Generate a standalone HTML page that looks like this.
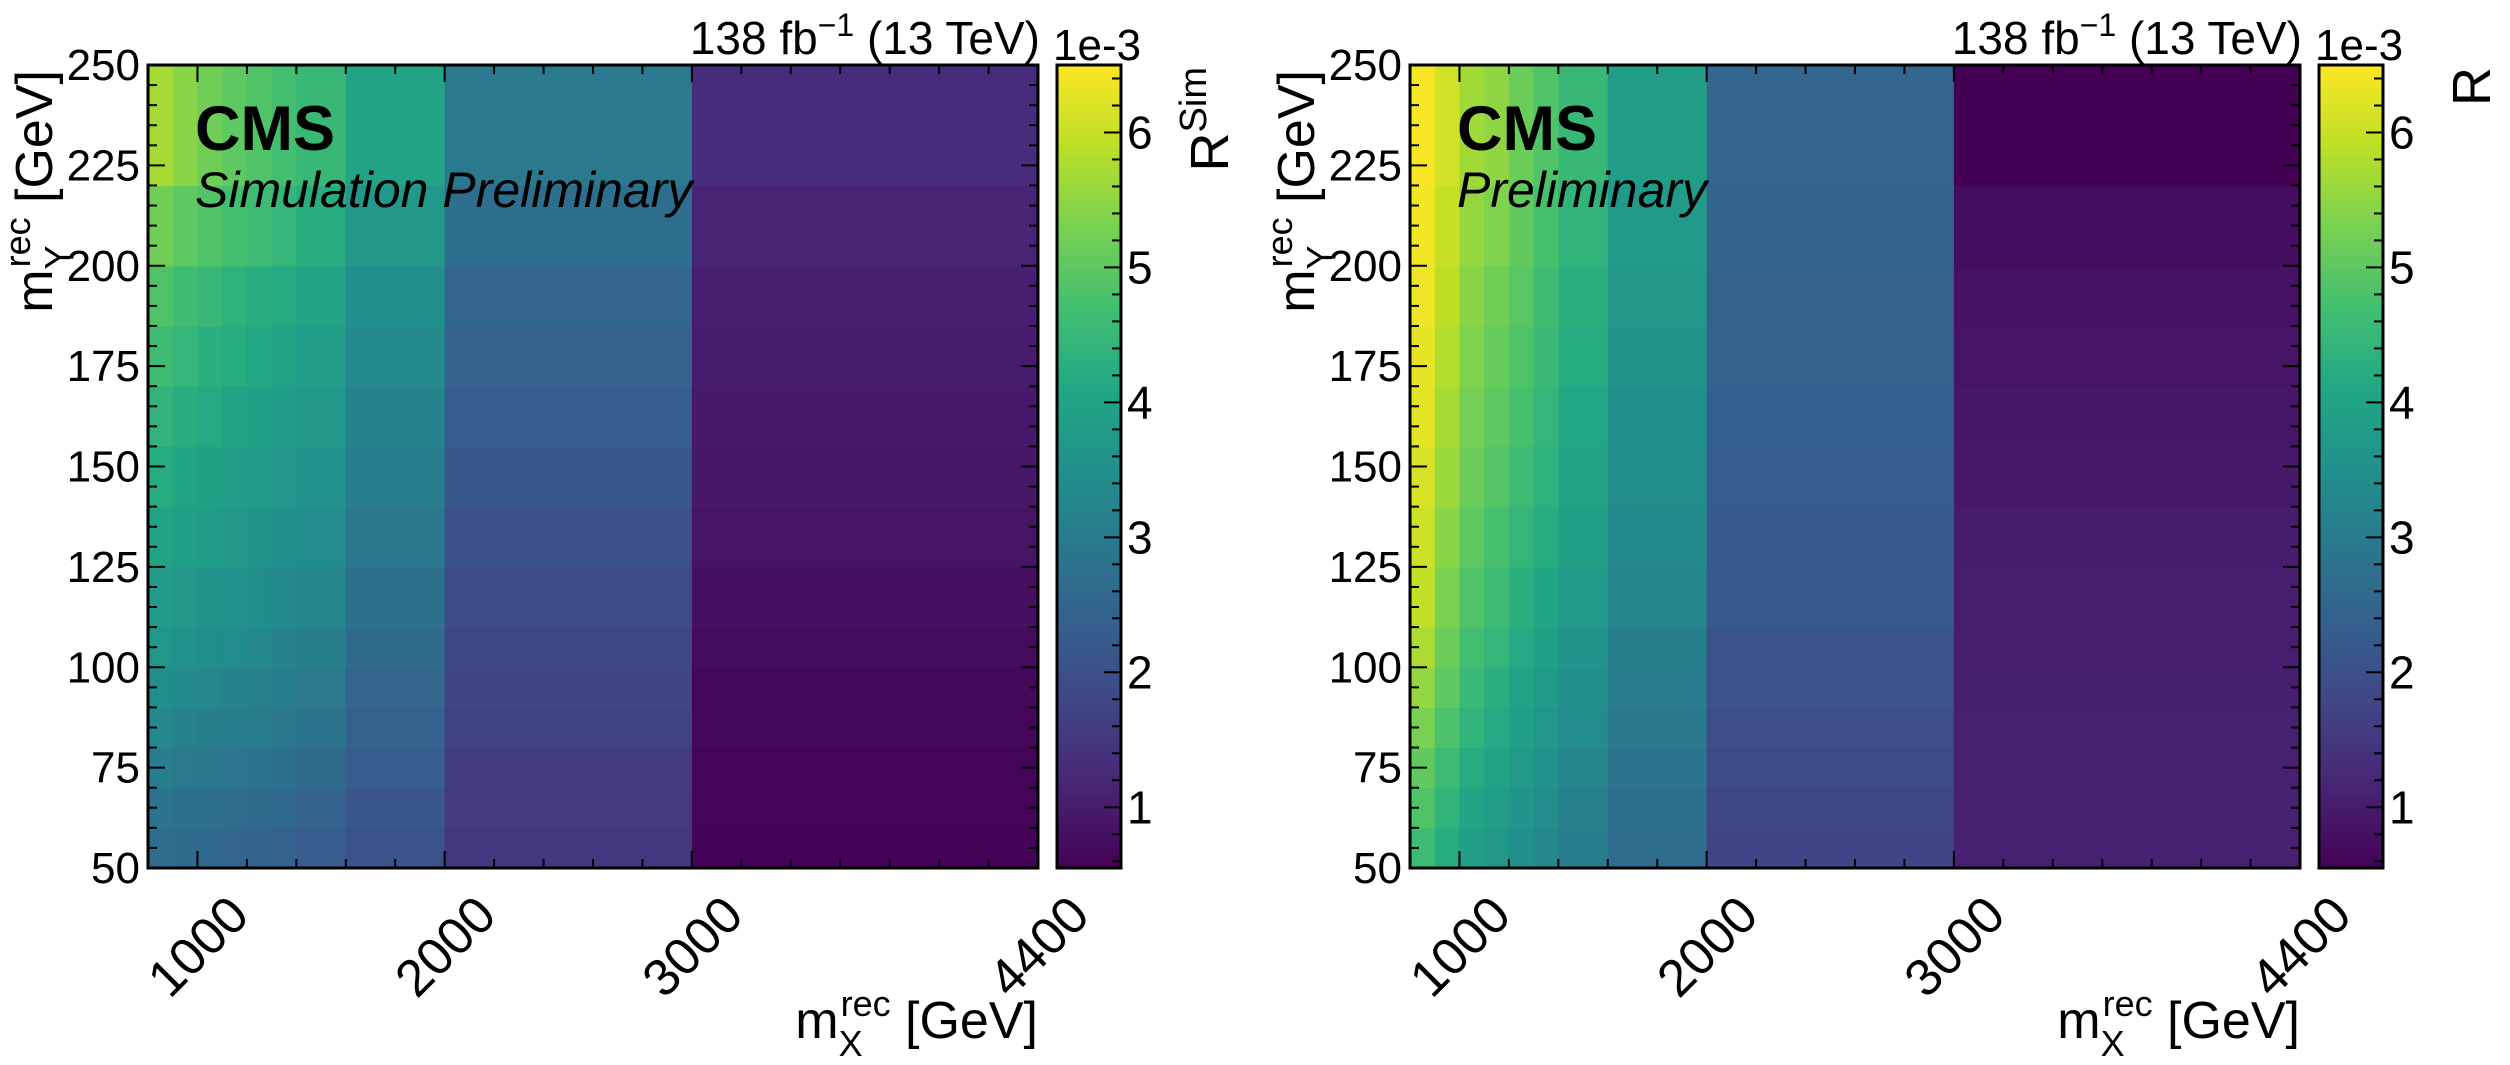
<!DOCTYPE html>
<html><head><meta charset="utf-8"><style>
html,body{margin:0;padding:0;background:#fff;}
svg{display:block;font-family:"Liberation Sans",Arial,sans-serif;}
</style></head><body>
<svg id="chart" width="2510" height="1065" viewBox="0 0 2510 1065" xmlns="http://www.w3.org/2000/svg">
<defs>
<linearGradient id="vir" x1="0" y1="1" x2="0" y2="0">
<stop offset="0" stop-color="#440154"/><stop offset="0.1" stop-color="#482475"/><stop offset="0.2" stop-color="#414487"/><stop offset="0.3" stop-color="#355f8d"/><stop offset="0.4" stop-color="#2a788e"/><stop offset="0.5" stop-color="#21918c"/><stop offset="0.6" stop-color="#22a884"/><stop offset="0.7" stop-color="#44bf70"/><stop offset="0.8" stop-color="#7ad151"/><stop offset="0.9" stop-color="#bddf26"/><stop offset="1" stop-color="#fde725"/>
</linearGradient>
</defs>
</svg>
<script>
// ---- data ----
const xEdges = [800, 900, 1000, 1100, 1200, 1300, 1400, 1600, 2000, 3000, 4400];
const yEdges = [50, 60, 70, 80, 90, 100, 110, 125, 140, 155, 170, 185, 200, 220, 250];
const xTickValues = [1000, 2000, 3000, 4400];
const yTickValues = [50, 75, 100, 125, 150, 175, 200, 225, 250];
const cbTickValues = [1, 2, 3, 4, 5, 6];
// rows bottom (50-60) -> top (220-250), units 1e-3
const valuesSim = [
 [2.65,2.6,2.55,2.5,2.45,2.4,2.3,2.05,1.5,0.58],
 [2.8,2.75,2.7,2.65,2.6,2.55,2.45,2.15,1.55,0.6],
 [3.05,2.95,2.9,2.85,2.8,2.75,2.6,2.3,1.6,0.62],
 [3.3,3.2,3.1,3.05,3.0,2.9,2.8,2.4,1.7,0.65],
 [3.45,3.35,3.3,3.2,3.15,3.05,2.95,2.5,1.75,0.68],
 [3.65,3.55,3.45,3.4,3.3,3.2,3.1,2.6,1.8,0.72],
 [3.8,3.7,3.6,3.55,3.45,3.35,3.25,2.75,1.9,0.78],
 [4.0,3.9,3.8,3.7,3.6,3.5,3.4,2.9,2.0,0.85],
 [4.2,4.05,3.95,3.85,3.75,3.65,3.55,3.05,2.15,0.9],
 [4.4,4.25,4.15,4.0,3.9,3.8,3.7,3.2,2.3,0.95],
 [4.65,4.45,4.3,4.2,4.1,4.0,3.85,3.35,2.4,1.0],
 [4.85,4.65,4.5,4.35,4.25,4.15,4.0,3.5,2.5,1.05],
 [5.2,5.0,4.85,4.7,4.6,4.45,4.25,3.7,2.7,1.15],
 [5.7,5.45,5.2,5.0,4.85,4.7,4.5,4.0,2.95,1.3]
];
const valuesData = [
 [4.6,4.2,3.9,3.7,3.5,3.3,3.05,2.65,1.75,1.1],
 [4.85,4.4,4.05,3.85,3.6,3.4,3.15,2.7,1.8,1.09],
 [5.05,4.6,4.2,4.0,3.75,3.55,3.25,2.8,1.9,1.08],
 [5.3,4.8,4.4,4.15,3.9,3.65,3.4,2.9,1.95,1.07],
 [5.55,5.0,4.55,4.3,4.0,3.8,3.5,3.0,2.05,1.06],
 [5.75,5.15,4.7,4.45,4.15,3.9,3.6,3.1,2.1,1.04],
 [5.95,5.3,4.85,4.6,4.3,4.05,3.75,3.25,2.2,1.02],
 [6.05,5.45,5.0,4.75,4.45,4.2,3.9,3.35,2.25,1.0],
 [6.15,5.6,5.15,4.9,4.6,4.35,4.0,3.45,2.3,0.96],
 [6.25,5.7,5.25,5.0,4.75,4.45,4.1,3.5,2.35,0.92],
 [6.3,5.8,5.35,5.1,4.85,4.55,4.2,3.6,2.4,0.87],
 [6.35,5.9,5.45,5.2,4.95,4.65,4.3,3.7,2.42,0.82],
 [6.4,6.0,5.55,5.35,5.05,4.75,4.4,3.75,2.45,0.75],
 [6.45,6.1,5.65,5.5,5.15,4.85,4.5,3.85,2.5,0.55]
];
const zMin = 0.55, zMax = 6.5;

// ---- rendering ----
const NS = "http://www.w3.org/2000/svg";
const svg = document.getElementById('chart');
const VIR = ["#440154","#482475","#414487","#355f8d","#2a788e","#21918c","#22a884","#44bf70","#7ad151","#bddf26","#fde725"];
function hex(h){return [parseInt(h.slice(1,3),16),parseInt(h.slice(3,5),16),parseInt(h.slice(5,7),16)];}
function viridis(v){
  let t=(v-zMin)/(zMax-zMin); t=Math.max(0,Math.min(1,t));
  const p=t*10, i=Math.min(9,Math.floor(p)), f=p-i;
  const a=hex(VIR[i]), b=hex(VIR[i+1]);
  return 'rgb('+a.map((c,k)=>Math.round(c+(b[k]-c)*f)).join(',')+')';
}
function mk(tag, attrs, parent){
  const e=document.createElementNS(NS,tag);
  for(const k in attrs) e.setAttribute(k, attrs[k]);
  (parent||svg).appendChild(e); return e;
}
function txt(str, attrs, parent){ const t=mk('text',attrs,parent); t.textContent=str; return t; }

function drawPanel(ox, values, isSim){
  const L=148+ox, R=1038+ox, T=65, B=868;
  const xs = v => L + (v-800)/(4400-800)*(R-L);
  const ys = v => B - (v-50)/(250-50)*(B-T);
  const g = mk('g',{});
  
  
  for(let r=0;r<yEdges.length-1;r++){
    for(let c=0;c<xEdges.length-1;c++){
      const x0=xs(xEdges[c]), x1=xs(xEdges[c+1]), y0=ys(yEdges[r+1]), y1=ys(yEdges[r]);
      const cell=mk('rect',{x:x0,y:y0,width:x1-x0+0.6,height:y1-y0+0.6,fill:viridis(values[r][c])},g);
      
      
    }
  }
  const tk = mk('g',{stroke:'#000','stroke-width':2},g);
  
  
  for(let v=800; v<=4400; v+=200){
    const maj = xTickValues.includes(v); const len = maj?17:9; const x=xs(v);
    mk('line',{x1:x,y1:B,x2:x,y2:B-len},tk); mk('line',{x1:x,y1:T,x2:x,y2:T+len},tk);
  }
  for(let v=50; v<=250; v+=5){
    const maj = yTickValues.includes(v); const len = maj?17:9; const y=ys(v);
    mk('line',{x1:L,y1:y,x2:L+len,y2:y},tk); mk('line',{x1:R,y1:y,x2:R-len,y2:y},tk);
  }
  const fr=mk('rect',{x:L,y:T,width:R-L,height:B-T,fill:'none',stroke:'#000','stroke-width':3},g);
  
  
  for(const v of yTickValues){
    const t=txt(String(v),{x:L-8,y:ys(v)+15,'font-size':44,'text-anchor':'end'},g);
    
    
  }
  for(const v of xTickValues){
    const ex=xs(v)+54, ey=918;
    const t=txt(String(v),{x:ex,y:ey,'font-size':52,'text-anchor':'end',transform:'rotate(-45 '+ex+' '+ey+')'},g);
    
    
  }
  const xt=txt('',{x:R,y:1038,'font-size':52,'text-anchor':'end'},g);
  
  
  xt.innerHTML='m<tspan dy="18" font-size="36">X</tspan><tspan dy="-40" dx="-22" font-size="36">rec</tspan><tspan dy="22"> [GeV]</tspan>';
  const yx=52+ox, yy=70;
  const yt=txt('',{x:yx,y:yy,'font-size':52,'text-anchor':'end',transform:'rotate(-90 '+yx+' '+yy+')'},g);
  
  
  yt.innerHTML='m<tspan dy="18" font-size="36">Y</tspan><tspan dy="-40" dx="-22" font-size="36">rec</tspan><tspan dy="22"> [GeV]</tspan>';
  const cms=txt('CMS',{x:L+47,y:150,'font-size':63,'font-weight':'bold'},g);
  
  
  const pre=txt(isSim?'Simulation Preliminary':'Preliminary',{x:L+47,y:207,'font-size':50,'font-style':'italic'},g);
  
  
  const lumi=txt('',{x:R+2,y:54,'font-size':46,'text-anchor':'end'},g);
  
  
  lumi.innerHTML='138 fb<tspan dy="-18" font-size="32">−1</tspan><tspan dy="18"> (13 TeV)</tspan>';
  const CL=1057+ox, CR=1121+ox;
  const cz = v => B - (v-zMin)/(zMax-zMin)*(B-T);
  const cb=mk('rect',{x:CL,y:T,width:CR-CL,height:B-T,fill:'url(#vir)'},g);
  
  
  const ct=mk('g',{stroke:'#000','stroke-width':2},g);
  
  
  for(let k=3;k<=32;k++){
    const v=k/5; if(v<zMin||v>zMax) continue;
    const maj = cbTickValues.includes(v); const y=cz(v);
    mk('line',{x1:CR,y1:y,x2:CR-(maj?17:9),y2:y},ct);
  }
  mk('rect',{x:CL,y:T,width:CR-CL,height:B-T,fill:'none',stroke:'#000','stroke-width':3},g);
  for(const v of cbTickValues){
    const t=txt(String(v),{x:CR+6,y:cz(v)+16,'font-size':46},g);
    
    
  }
  const ex=txt('1e-3',{x:CL-4,y:60,'font-size':44},g);
  
  
  const lx=1228+ox, ly=67;
  const ctl=txt('',{x:lx,y:ly,'font-size':54,'text-anchor':'end',transform:'rotate(-90 '+lx+' '+ly+')'},g);
  
  
  ctl.innerHTML = isSim ? 'R<tspan dy="-22" font-size="38">Sim</tspan>' : 'R';
}
drawPanel(0, valuesSim, true);
drawPanel(1262, valuesData, false);
</script>
</body></html>
